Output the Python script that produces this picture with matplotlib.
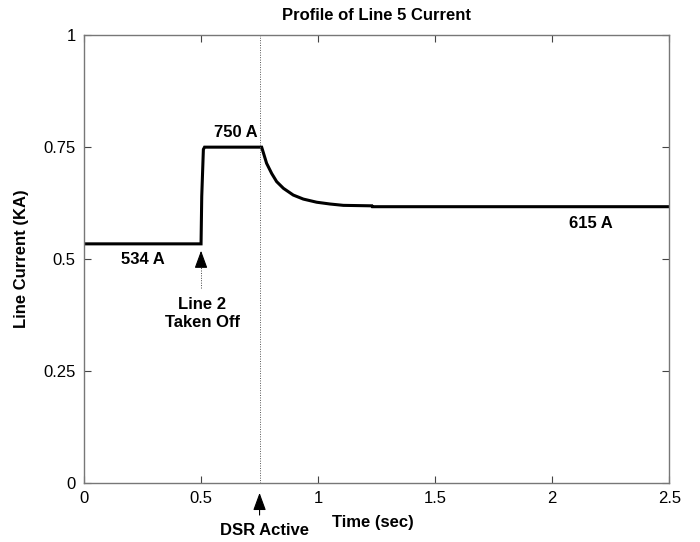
import numpy as np
import matplotlib
matplotlib.use("Agg")
import matplotlib.pyplot as plt

plt.rcParams['font.family'] = ['Liberation Sans', 'DejaVu Sans']

# line 5 current profile (kA)
t_sec = [0.0, 0.50, 0.503, 0.51, 0.515, 0.759, 0.780, 0.802, 0.823, 0.852,
         0.894, 0.937, 0.994, 1.051, 1.108, 1.222, 1.23, 1.232, 2.5]
i_ka = [0.534, 0.534, 0.640, 0.745, 0.750, 0.750, 0.714, 0.691, 0.673, 0.658,
        0.643, 0.634, 0.627, 0.623, 0.620, 0.619, 0.619, 0.617, 0.617]

xticks = [0, 0.5, 1, 1.5, 2, 2.5]
xticklabels = ['0', '0.5', '1', '1.5', '2', '2.5']
yticks = [0, 0.25, 0.5, 0.75, 1]
yticklabels = ['0', '0.25', '0.5', '0.75', '1']

t_trip = 0.5    # line 2 taken off
t_dsr = 0.75    # DSR active

fs = 12
fig = plt.figure(figsize=(7, 5.42), dpi=100)
ax = fig.add_axes([0.12, 0.109, 0.836, 0.826])

ax.plot(t_sec, i_ka, color='black', lw=2.2, solid_joinstyle='miter')
ax.axvline(t_dsr, color='#555555', lw=0.7, ls=(0, (1, 1.5)))

ax.set_xlim(0, 2.5)
ax.set_ylim(0, 1)
ax.set_xticks(xticks)
ax.set_xticklabels(xticklabels)
ax.set_yticks(yticks)
ax.set_yticklabels(yticklabels)
ax.tick_params(direction='in', top=True, right=True, labelsize=12, length=5,
               color='#444444', pad=6)
for s in ax.spines.values():
    s.set_color('#777777')
    s.set_linewidth(1.0)

ax.set_title('Profile of Line 5 Current', fontsize=fs, fontweight='bold', pad=11)
ax.set_ylabel('Line Current (KA)', fontsize=fs, fontweight='bold', labelpad=10)
ax.text(1.06, -0.088, 'Time (sec)', fontsize=fs, fontweight='bold',
        ha='left', va='center', clip_on=False)

ax.text(0.252, 0.50, '534 A', fontsize=fs, fontweight='bold', ha='center', va='center')
ax.text(0.647, 0.782, '750 A', fontsize=fs, fontweight='bold', ha='center', va='center')
ax.text(2.167, 0.58, '615 A', fontsize=fs, fontweight='bold', ha='center', va='center')

head = dict(arrowstyle='-|>,head_length=0.6,head_width=0.22', color='black',
            mutation_scale=18, lw=0.8)
# dotted tail + solid head for the line 2 trip marker
ax.plot([t_trip, t_trip], [0.435, 0.51], color='#444444', lw=0.7, ls=(0, (1, 1.5)))
ax.annotate('', xy=(t_trip, 0.525), xytext=(t_trip, 0.505), arrowprops=head)
ax.text(0.505, 0.378, 'Line 2\nTaken Off', fontsize=fs, fontweight='bold',
        ha='center', va='center', linespacing=1.3)

ax.annotate('', xy=(t_dsr, -0.016), xytext=(t_dsr, -0.078),
            arrowprops=head, annotation_clip=False)
ax.text(0.769, -0.107, 'DSR Active', fontsize=fs, fontweight='bold',
        ha='center', va='center', clip_on=False)

fig.savefig('out.png', dpi=100)
